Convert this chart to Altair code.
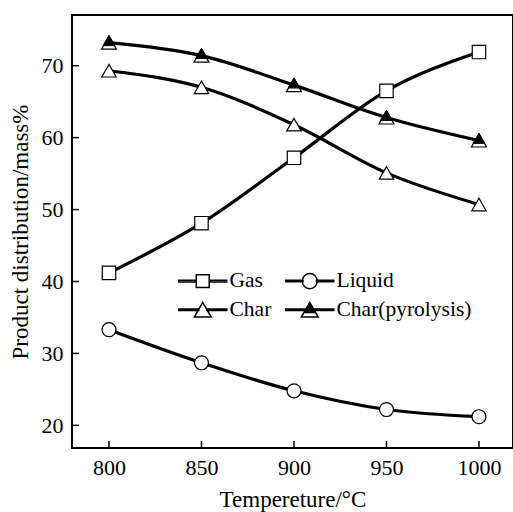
import altair as alt
import pandas as pd

temps = [800, 850, 900, 950, 1000]
gas = [41.2, 48.1, 57.2, 66.5, 71.9]
liquid = [33.3, 28.7, 24.8, 22.2, 21.2]
char = [69.3, 67.0, 61.8, 55.1, 50.7]
pyro = [73.2, 71.4, 67.3, 62.8, 59.6]
y_ticks = [20, 30, 40, 50, 60, 70]

series_names = ["Gas", "Liquid", "Char", "Char(pyrolysis)"]
series_values = [gas, liquid, char, pyro]

rows = []
for name, vals in zip(series_names, series_values):
    for t, v in zip(temps, vals):
        rows.append({"T": t, "v": v, "series": name})
df = pd.DataFrame(rows)
xt_df = pd.DataFrame({"T": temps})
yt_df = pd.DataFrame({"v": y_ticks})

FONT = "Liberation Serif"
W, H = 441, 433
TICK = 7

xscale = alt.Scale(domain=[780, 1018.4], nice=False, zero=False)
yscale = alt.Scale(domain=[16.85, 77.05], nice=False, zero=False)

axis_style = dict(grid=False, ticks=False, domain=False,
                  labelFont=FONT, titleFont=FONT, labelColor="black",
                  titleColor="black", titleFontWeight="normal",
                  labelFontSize=22, titleFontSize=23)

x_main = alt.X("T:Q", scale=xscale, axis=alt.Axis(
    values=temps, format="d", labelPadding=9,
    title="Tempereture/°C", titlePadding=10, **axis_style))
y_main = alt.Y("v:Q", scale=yscale, axis=alt.Axis(
    values=y_ticks, labelPadding=9, title="Product distribution/mass%",
    titlePadding=9, **axis_style))

lines = alt.Chart(df).mark_line(
    interpolate="monotone", color="black", strokeWidth=3.2
).encode(x=x_main, y=y_main, detail="series:N")

# inward axis ticks, placed by the axis scales at the tick values
x_ticks_layer = alt.Chart(xt_df).mark_rule(color="black", strokeWidth=1.5).encode(
    x=x_main, y=alt.value(H - TICK), y2=alt.value(H))
y_ticks_layer = alt.Chart(yt_df).mark_rule(color="black", strokeWidth=1.5).encode(
    y=y_main, x=alt.value(0), x2=alt.value(TICK))

pts = alt.Chart(df).mark_point(
    filled=True, fill="white", stroke="black", strokeWidth=1.2, opacity=1
).encode(
    x=x_main,
    y=y_main,
    shape=alt.Shape("series:N", scale=alt.Scale(
        domain=series_names,
        range=["square", "circle", "triangle-up", "triangle-up"]), legend=None),
    size=alt.Size("series:N", scale=alt.Scale(
        domain=series_names, range=[180, 225, 289, 289]), legend=None),
)

pyro_tip = alt.Chart(df).transform_filter(
    alt.datum.series == "Char(pyrolysis)"
).mark_point(
    filled=True, fill="black", stroke="black", strokeWidth=1, opacity=1,
    shape="triangle-up", size=140, yOffset=-2.2
).encode(x=x_main, y=y_main)

line_l = "M-3,-0.094H-0.85V0.094H-3Z M0.85,-0.094H3V0.094H0.85Z "
p_square = line_l + "M-0.81,-0.81H0.81V0.81H-0.81Z"
p_circle = line_l + "M-0.94,0A0.94,0.94 0 1,0 0.94,0A0.94,0.94 0 1,0 -0.94,0Z"
line_t = "M-3,-0.094H-0.5V0.094H-3Z M0.5,-0.094H3V0.094H0.5Z "
p_tri = line_t + "M0,-0.92L1.06,0.92H-1.06Z"
p_pyro = line_t + "M0,-0.92L1.06,0.92L-1.06,0.92Z M-0.73,0.35L-1.06,0.92L1.06,0.92L0.73,0.35Z"

leg = dict(title=None, orient="none", legendX=120, legendY=255, columns=2,
           direction="horizontal")

legend_layer = alt.Chart(df).transform_filter("false").mark_point(
    filled=True, strokeWidth=1.5, opacity=1
).encode(
    shape=alt.Shape("series:N", scale=alt.Scale(
        domain=series_names, range=[p_square, p_circle, p_tri, p_pyro]),
        legend=alt.Legend(
            symbolSize=256, symbolStrokeWidth=1.5,
            labelFont=FONT, labelFontSize=21.5,
            labelColor="black", labelOffset=16, columnPadding=10, rowPadding=6,
            padding=0, symbolOpacity=1, **leg)),
    fill=alt.Fill("series:N", scale=alt.Scale(
        domain=series_names, range=["white", "white", "white", "black"]),
        legend=alt.Legend(**leg)),
    stroke=alt.Stroke("series:N", scale=alt.Scale(
        domain=series_names, range=["black", "black", "black", "black"]),
        legend=alt.Legend(**leg)),
)

chart = alt.layer(
    x_ticks_layer, y_ticks_layer, lines, pts, pyro_tip, legend_layer
).resolve_scale(
    shape="independent", fill="independent", size="independent", stroke="independent"
).properties(
    width=W, height=H,
    padding={"left": 72, "top": 15, "right": 0, "bottom": 64},
    autosize=alt.AutoSizeParams(type="none"),
    background="white",
).configure_view(
    stroke="black", strokeWidth=2
).configure_axis(
    labelFont=FONT, titleFont=FONT, labelColor="black", titleColor="black",
    titleFontWeight="normal"
)

chart.save("out.html", embed_options={"renderer": "svg", "actions": False})
